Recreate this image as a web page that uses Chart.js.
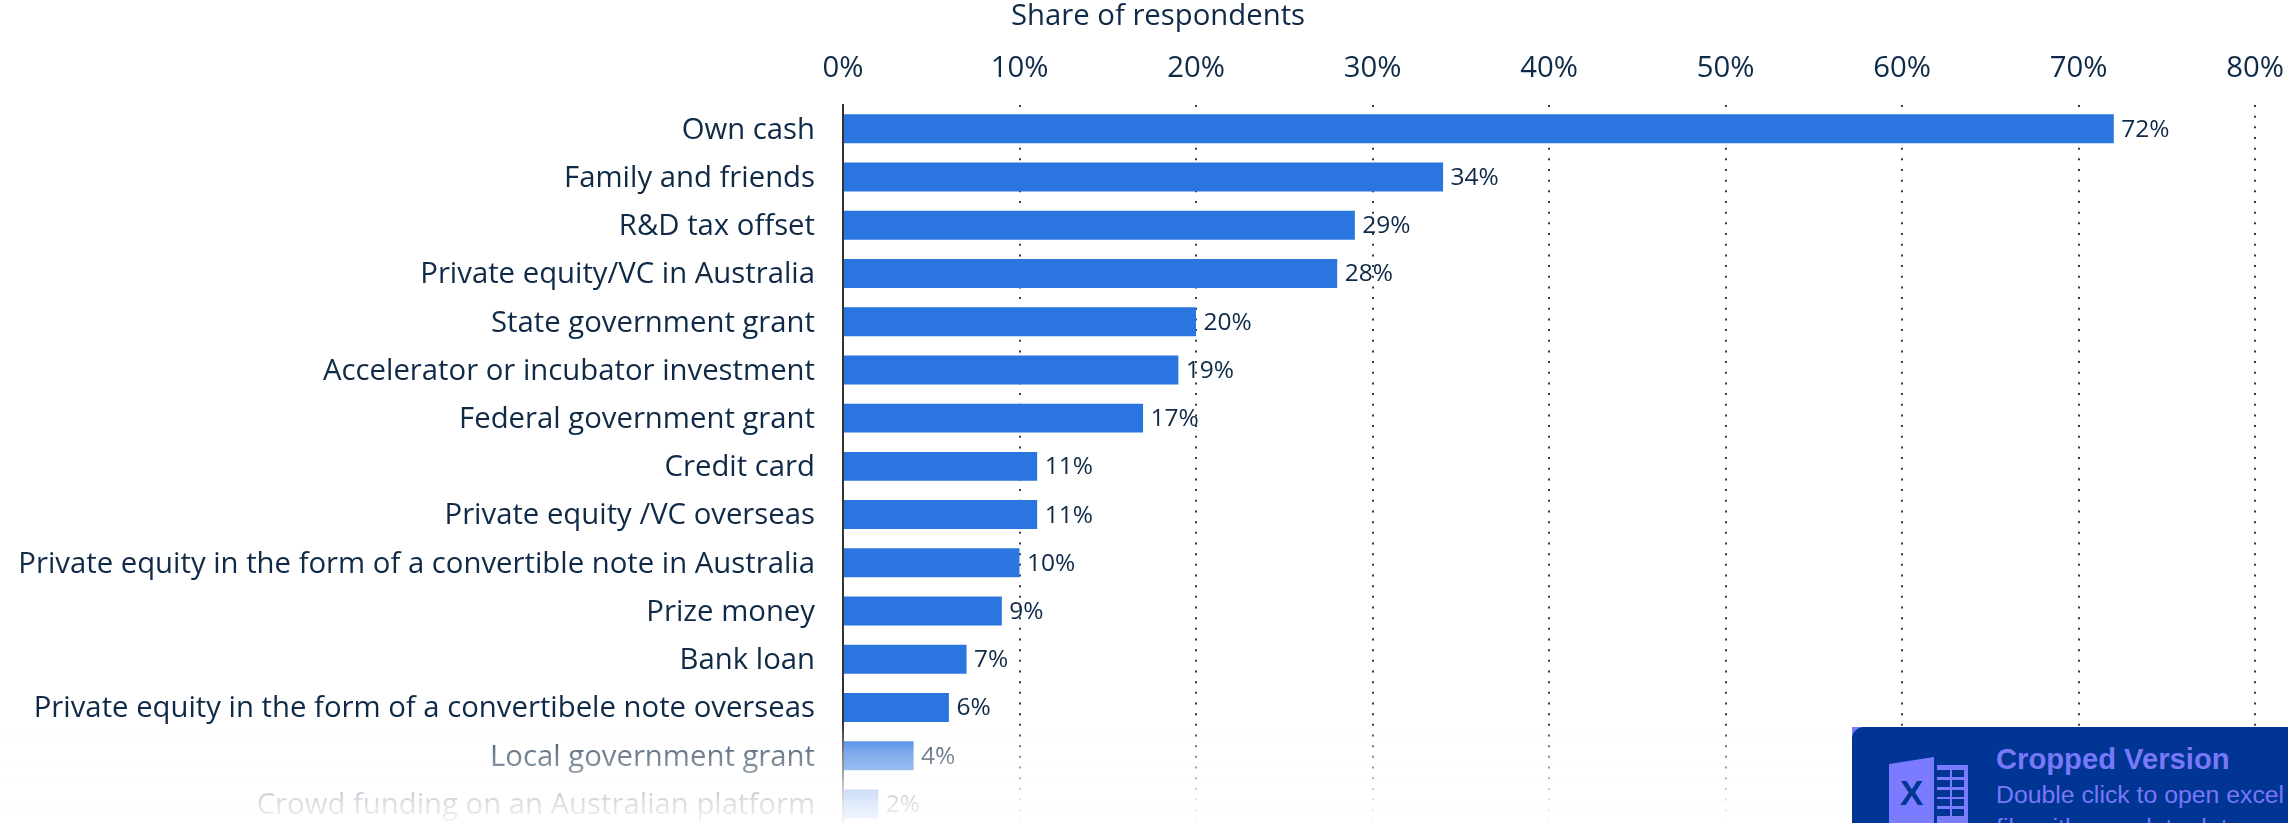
<!DOCTYPE html>
<html>
<head>
<meta charset="utf-8">
<style>
html,body{margin:0;padding:0;background:#fff;overflow:hidden;width:2288px;height:823px}
#wrap{position:relative;width:2288px;height:823px;overflow:hidden}
canvas{position:absolute;left:0;top:0}
#badge{position:absolute;left:1852px;top:727px;width:436px;height:96px;background:#7b7bff;overflow:hidden}
#inner{position:absolute;inset:0;background:#003594;border-top-left-radius:12px;overflow:hidden;font-family:"Liberation Sans",Arial,sans-serif;color:#7878f8}
#inner div{position:absolute;left:144px;white-space:nowrap}
#l1{top:17px;font-size:29.2px;font-weight:bold;line-height:30px}
#l2{top:53px;font-size:24.8px;line-height:30px}
#l3{top:86px;font-size:24.8px;line-height:30px}
svg{position:absolute;left:37px;top:30px}
</style>
</head>
<body>
<div id="wrap">
<canvas id="c" width="2288" height="828"></canvas>
<div id="badge"><div id="inner">
<svg width="82" height="66" viewBox="0 0 82 66">
<path d="M0 7 L45 0 L45 66 L0 66 Z" fill="#7b7bff"/>
<rect x="48" y="8" width="31" height="58" fill="#7b7bff"/>
<g fill="#003594">
<rect x="48" y="13" width="13" height="7"/><rect x="63" y="13" width="12" height="7"/>
<rect x="48" y="23" width="13" height="7"/><rect x="63" y="23" width="12" height="7"/>
<rect x="48" y="33" width="13" height="7"/><rect x="63" y="33" width="12" height="7"/>
<rect x="48" y="42" width="13" height="7"/><rect x="63" y="42" width="12" height="7"/>
<rect x="48" y="52" width="13" height="7"/><rect x="63" y="52" width="12" height="7"/>
</g>
<text x="22.7" y="48" text-anchor="middle" font-family="Liberation Sans" font-weight="bold" font-size="35" fill="#003594">X</text>
</svg>
<div id="l1">Cropped Version</div>
<div id="l2">Double click to open excel</div>
<div id="l3">file with complete data</div>
</div></div>
</div>
<script src="https://cdn.jsdelivr.net/npm/chart.js@4/dist/chart.umd.min.js"></script>
<script>
const categories = ["Own cash","Family and friends","R&D tax offset","Private equity/VC in Australia","State government grant","Accelerator or incubator investment","Federal government grant","Credit card","Private equity /VC overseas","Private equity in the form of a convertible note in Australia","Prize money","Bank loan","Private equity in the form of a convertibele note overseas","Local government grant","Crowd funding on an Australian platform"];
const shares = [72,34,29,28,20,19,17,11,11,10,9,7,6,4,2];
const axisTitle = "Share of respondents";
const xTickStep = 10;
const xMax = 80;
const INK = "#0f2a47";
const FONT = '"Open Sans"';
const clearPads = s => { s.paddingLeft = s.paddingRight = s.paddingTop = s.paddingBottom = 0; };

const valueLabels = {
  id:"valueLabels",
  afterDatasetsDraw(chart){
    const {ctx} = chart;
    const meta = chart.getDatasetMeta(0);
    ctx.save();
    ctx.font = "24.5px "+FONT;
    ctx.fillStyle = INK;
    ctx.textAlign = "left";
    ctx.textBaseline = "middle";
    meta.data.forEach((bar,i)=>ctx.fillText(shares[i]+"%",bar.x+7.5,bar.y+1));
    ctx.restore();
  }
};
const axisCaption = {
  id:"axisCaption",
  afterDraw(chart){
    const {ctx} = chart;
    ctx.save();
    ctx.font = "29.3px "+FONT;
    ctx.fillStyle = INK;
    ctx.textAlign = "center";
    ctx.textBaseline = "middle";
    ctx.fillText(axisTitle,1158,17);
    ctx.restore();
  }
};
const bottomFade = {
  id:"bottomFade",
  afterDraw(chart){
    const {ctx} = chart;
    const g = ctx.createLinearGradient(0,722,0,823);
    g.addColorStop(0,"rgba(255,255,255,0)");
    g.addColorStop(0.32,"rgba(255,255,255,0.4)");
    g.addColorStop(0.48,"rgba(255,255,255,0.52)");
    g.addColorStop(0.66,"rgba(255,255,255,0.75)");
    g.addColorStop(0.81,"rgba(255,255,255,0.86)");
    g.addColorStop(1,"rgba(255,255,255,0.95)");
    ctx.save();
    ctx.fillStyle = g;
    ctx.fillRect(0,722,2288,106);
    ctx.restore();
  }
};

new Chart(document.getElementById("c"),{
  type:"bar",
  data:{labels:categories,datasets:[{data:shares,backgroundColor:"#2a75e0",categoryPercentage:0.6,barPercentage:1,borderWidth:0}]},
  plugins:[valueLabels,axisCaption,bottomFade],
  options:{
    indexAxis:"y",
    responsive:false,
    animation:false,
    layout:{padding:{left:0,right:33,top:0,bottom:0}},
    plugins:{legend:{display:false},title:{display:false},tooltip:{enabled:false}},
    scales:{
      x:{
        position:"top",min:0,max:xMax,
        afterFit(s){s.height=104.7;clearPads(s);},
        border:{display:false,dash:[2,8.67]},
        grid:{drawTicks:false,lineWidth:2,color:c=>c.tick&&c.tick.value===0?"rgba(0,0,0,0)":"#333a42"},
        ticks:{stepSize:xTickStep,maxRotation:0,autoSkip:false,padding:18,color:INK,font:{family:"Open Sans",size:29.3},callback:v=>v+"%"}
      },
      y:{
        afterFit(s){s.width=843;clearPads(s);},
        border:{display:true,color:"#333",width:2,z:1},
        grid:{display:false,drawTicks:false},
        ticks:{autoSkip:false,padding:28,labelOffset:1.5,color:INK,font:{family:"Open Sans",size:29.3}}
      }
    }
  }
});
</script>
</body>
</html>
